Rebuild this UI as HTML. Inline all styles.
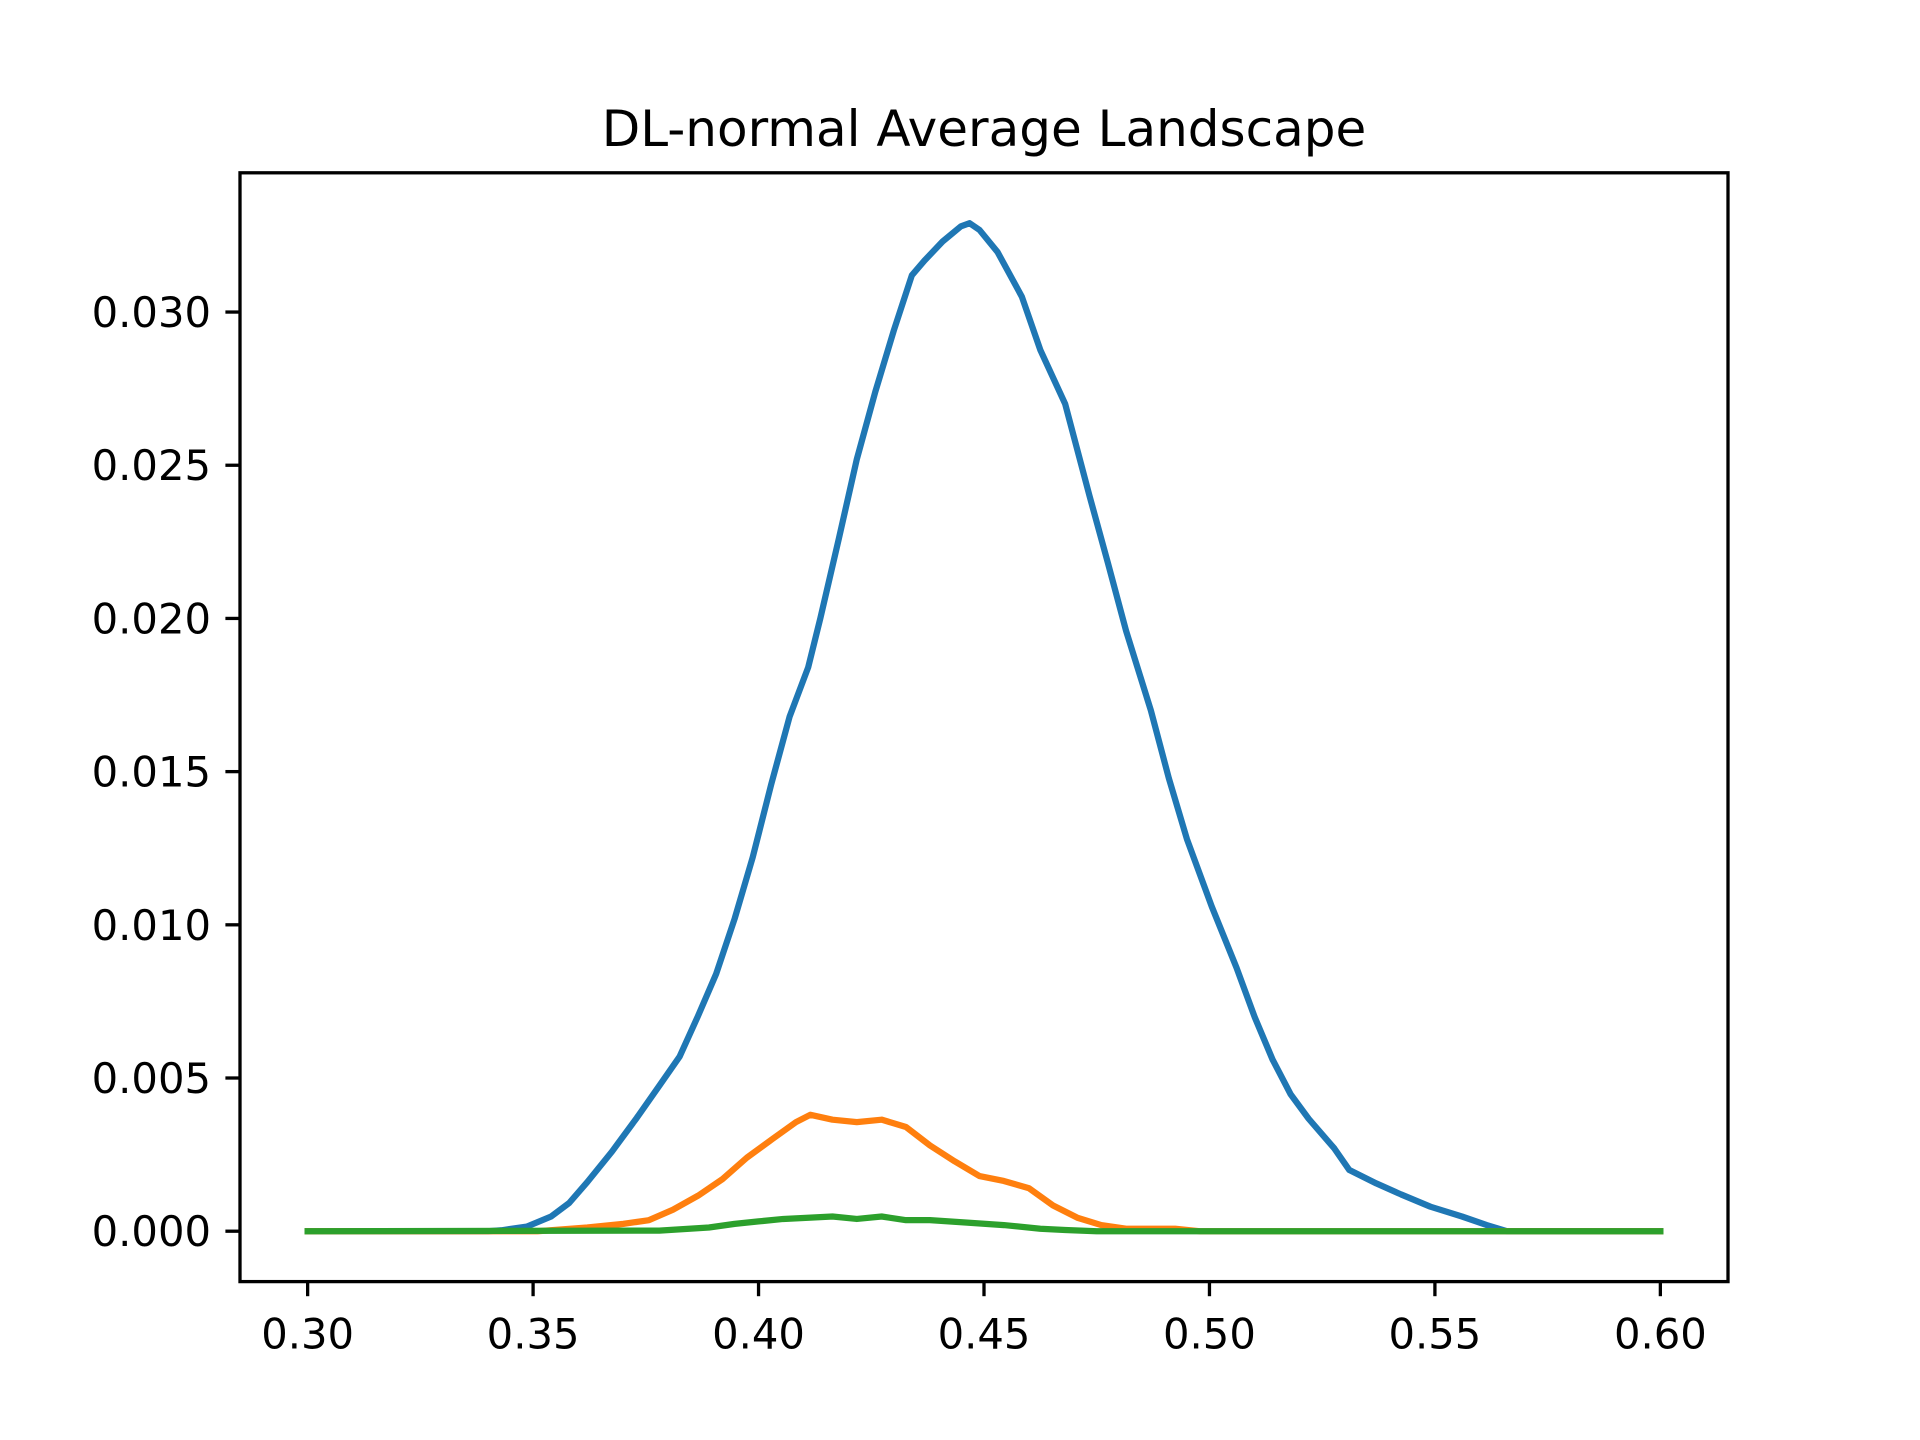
<!DOCTYPE html>
<html><head><meta charset="utf-8"><style>html,body{margin:0;padding:0;background:#fff}svg{display:block}</style></head>
<body>
<svg id="chart" width="1920" height="1440" xmlns="http://www.w3.org/2000/svg" font-family="DejaVu Sans, Liberation Sans, sans-serif">
<rect width="1920" height="1440" fill="#fff"/>
<text x="984" y="146" font-size="50" text-anchor="middle">DL-normal Average Landscape</text>
<g id="plot"></g>
<rect x="240" y="172.8" width="1488" height="1108.8" fill="none" stroke="#000" stroke-width="3.3"/>
<g id="axes"></g>
</svg>
<script>
const xTicks=[0.30,0.35,0.40,0.45,0.50,0.55,0.60];
const yTicks=[0,0.005,0.010,0.015,0.020,0.025,0.030];
const blueX=[0.30,0.34,0.343,0.3486,0.354,0.358,0.362,0.3675,0.373,0.378,0.3825,0.3865,0.3906,0.3947,0.3987,0.4028,0.4069,0.411,0.4137,0.4178,0.4218,0.4259,0.43,0.434,0.4368,0.4408,0.4449,0.4468,0.449,0.453,0.4584,0.4625,0.468,0.4734,0.4775,0.4815,0.487,0.491,0.495,0.5005,0.506,0.51,0.514,0.518,0.522,0.5277,0.531,0.537,0.5425,0.549,0.556,0.5615,0.566,0.60];
const blueY=[0,0,0.00003,0.00015,0.00048,0.00092,0.0016,0.0026,0.0037,0.00475,0.0057,0.007,0.0084,0.0102,0.0122,0.01458,0.0168,0.0184,0.02,0.0226,0.0252,0.0274,0.0294,0.0312,0.03168,0.0323,0.0328,0.0329,0.03268,0.03196,0.0305,0.02876,0.027,0.024,0.0218,0.0196,0.017,0.01478,0.0128,0.0106,0.0086,0.007,0.0056,0.00447,0.00367,0.0027,0.002,0.00156,0.0012,0.0008,0.00048,0.0002,0,0];
const orangeX=[0.30,0.351,0.362,0.37,0.3757,0.381,0.3866,0.392,0.3974,0.403,0.4083,0.4115,0.4164,0.4218,0.4273,0.4327,0.438,0.4435,0.449,0.4544,0.46,0.4653,0.4707,0.476,0.4815,0.4924,0.4978,0.60];
const orangeY=[0,0,0.00012,0.00024,0.00036,0.0007,0.00116,0.0017,0.0024,0.003,0.00356,0.0038,0.00364,0.00356,0.00364,0.0034,0.0028,0.00228,0.0018,0.00164,0.0014,0.00084,0.00044,0.0002,0.00008,0.00008,0,0];
const greenX=[0.30,0.378,0.389,0.3947,0.40,0.4055,0.411,0.4164,0.4218,0.4273,0.4327,0.438,0.4463,0.4544,0.4625,0.468,0.475,0.60];
const greenY=[0,0.00002,0.00012,0.00024,0.00032,0.0004,0.00044,0.00048,0.0004,0.00048,0.00036,0.00036,0.00028,0.0002,0.00008,0.00004,0,0];
const NS='http://www.w3.org/2000/svg';
const L=240,R=1728,T=172.8,B=1281.6;
const x0=0.285,x1=0.615,y0=-0.001645,y1=0.034545;
const sx=v=>L+(v-x0)/(x1-x0)*(R-L);
const sy=v=>B-(v-y0)/(y1-y0)*(B-T);
const plot=document.getElementById('plot'),axes=document.getElementById('axes');
function mk(tag,attrs,parent){const e=document.createElementNS(NS,tag);for(const k in attrs)e.setAttribute(k,attrs[k]);parent.appendChild(e);return e;}
function line(xs,ys,color,name){
  const p=mk('polyline',{points:xs.map((x,i)=>sx(x)+','+sy(ys[i])).join(' '),fill:'none',stroke:color,'stroke-width':6.25,'stroke-linejoin':'round','stroke-linecap':'square'},plot);
  
  
}
line(blueX,blueY,'#1f77b4','series-blue-line');
line(orangeX,orangeY,'#ff7f0e','series-orange-line');
line(greenX,greenY,'#2ca02c','series-green-line');
xTicks.forEach(v=>{
  const t=mk('line',{x1:sx(v),x2:sx(v),y1:B,y2:B+14.6,stroke:'#000','stroke-width':3.3},axes);
  
  
  const s=mk('text',{x:sx(v),y:B+29+38,'font-size':41.7,'text-anchor':'middle'},axes);
  s.textContent=v.toFixed(2);
  
  
});
yTicks.forEach(v=>{
  const t=mk('line',{x1:L-14.6,x2:L,y1:sy(v),y2:sy(v),stroke:'#000','stroke-width':3.3},axes);
  
  
  const s=mk('text',{x:L-29,y:sy(v)+15,'font-size':41.7,'text-anchor':'end'},axes);
  s.textContent=v.toFixed(3);
  
  
});
</script>
</body></html>
